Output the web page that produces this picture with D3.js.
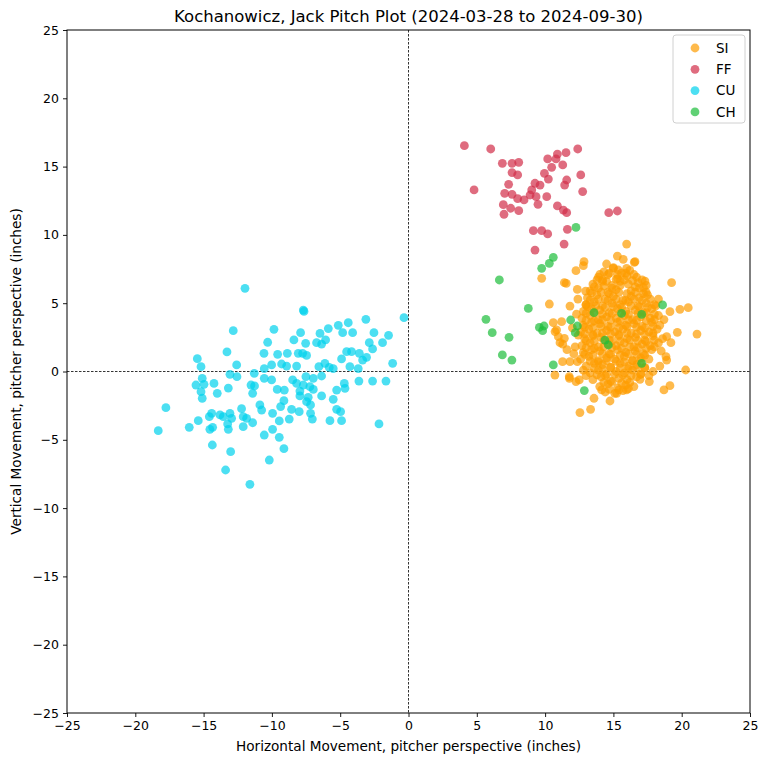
<!DOCTYPE html>
<html>
<head>
<meta charset="utf-8">
<script src="https://cdn.jsdelivr.net/npm/d3@7"></script>
<style>
  body { margin: 0; background: #fff; }
  svg text { font-family: "DejaVu Sans", sans-serif; fill: #000; }
</style>
</head>
<body>
<svg id="chart" width="768" height="765"></svg>
<script>
var pitchTypes = ['SI', 'FF', 'CU', 'CH'];
var pitchColors = ['#FE9D00', '#D22D49', '#00D1ED', '#1DBE3A'];
var tickValues = [-25, -20, -15, -10, -5, 0, 5, 10, 15, 20, 25];

var siPitches = [
  [15.97,9.33],[15.29,8.45],[15.72,8.21],[16.58,8.04],[12.85,8.04],[12.80,7.75],[14.50,7.87],[16.53,7.99],
  [12.26,7.38],[14.99,7.55],[15.36,7.43],[15.97,7.55],[9.75,6.82],[11.41,6.50],[11.55,6.45],[14.21,6.70],
  [17.31,6.62],[19.26,6.50],[12.36,6.01],[12.97,5.89],[10.31,4.94],[11.82,4.79],[12.99,4.87],[20.48,4.67],
  [19.87,4.55],[19.14,4.38],[10.60,3.57],[11.21,3.65],[10.84,3.04],[10.97,2.55],[11.41,2.43],[12.43,2.67],
  [11.09,2.11],[19.68,2.87],[21.12,2.74],[18.90,2.55],[19.21,2.11],[11.28,0.72],[11.82,0.72],[12.36,0.72],
  [10.72,-0.26],[11.77,-0.38],[12.26,-0.74],[20.29,0.11],[18.90,0.84],[18.85,1.09],[17.63,-0.74],[19.14,-1.04],
  [18.70,-1.35],[13.58,-1.96],[14.75,-2.16],[13.33,-2.77],[12.55,-3.01],[15.97,-1.35],[15.24,-1.60],[14.14,-1.35],
  [16.95,-0.57],[12.50,-0.62],[11.78,-0.50],[10.73,2.92],[11.29,2.00],
  [12.3,4.2],[12.2,1.8],[18.7,3.8],[18.6,2.4],[12.4,5.3],[18.3,5.3],[12.0,3.2],[12.1,1.3],[11.6,1.6],
  [18.5,1.5],[18.4,0.4],[17.9,0.0],[17.6,-0.3],[13.0,-0.3],[12.8,0.1],
  [14.3,7.3],[15.0,7.6],[15.6,7.2],[16.2,7.4],
  [13.9,6.9],[14.6,7.1],[15.3,6.8],[16.0,7.0],[16.7,6.9],
  [13.5,6.4],[14.2,6.6],[14.9,6.3],[15.5,6.6],[16.1,6.4],[16.8,6.5],[17.4,6.3],
  [13.3,5.9],[13.9,6.1],[14.6,5.8],[15.2,6.0],[16.3,5.9],[16.9,6.1],[17.4,5.8],
  [13.1,5.4],[13.8,5.6],[14.4,5.3],[15.0,5.5],[15.7,5.2],[16.3,5.5],[16.9,5.4],[17.5,5.6],
  [13.0,4.9],[13.6,5.1],[14.2,4.8],[14.9,5.0],[15.5,4.9],[16.1,5.1],[16.8,4.8],[17.4,5.0],[18.0,4.9],
  [12.8,4.4],[13.4,4.6],[14.0,4.5],[14.7,4.3],[15.3,4.6],[15.9,4.4],[16.6,4.5],[17.2,4.3],[17.8,4.6],
  [12.7,3.9],[13.3,4.1],[13.9,3.8],[14.5,4.0],[15.2,3.9],[15.8,4.1],[16.4,3.8],[17.0,4.0],[17.7,3.9],[18.3,4.1],
  [12.8,3.4],[13.4,3.6],[14.0,3.5],[14.6,3.3],[15.3,3.6],[15.9,3.4],[16.5,3.5],[17.1,3.3],[17.8,3.6],[18.4,3.4],
  [12.6,2.9],[13.2,3.1],[13.8,2.8],[14.5,3.0],[15.1,2.9],[15.7,3.1],[16.3,2.8],[17.0,3.0],[17.6,2.9],[18.2,3.1],
  [12.9,2.4],[13.5,2.6],[14.1,2.5],[14.7,2.3],[15.4,2.6],[16.0,2.4],[16.6,2.5],[17.3,2.3],[17.9,2.6],
  [12.7,1.9],[13.3,2.1],[13.9,1.8],[14.6,2.0],[15.2,1.9],[15.8,2.1],[16.5,1.8],[17.1,2.0],[17.7,1.9],[18.3,2.1],
  [12.8,1.4],[13.4,1.6],[14.0,1.5],[14.7,1.3],[15.3,1.6],[15.9,1.4],[16.6,1.5],[17.2,1.3],[17.8,1.6],
  [12.6,0.9],[13.2,1.1],[13.9,0.8],[14.5,1.0],[15.1,0.9],[15.8,1.1],[16.4,0.8],[17.0,1.0],[17.6,0.9],
  [13.0,0.4],[13.6,0.6],[14.2,0.5],[14.8,0.3],[15.5,0.6],[16.1,0.4],[16.7,0.5],[17.3,0.3],
  [13.3,-0.1],[13.9,0.1],[14.5,-0.2],[15.2,0.0],[15.8,-0.1],[16.4,0.1],[17.0,-0.2],
  [13.5,-0.6],[14.1,-0.4],[14.8,-0.7],[15.4,-0.5],[16.0,-0.6],[16.7,-0.4],
  [14.0,-1.1],[14.6,-0.9],[15.3,-1.2],[15.9,-1.0],[16.5,-1.1],
  [14.4,-1.5],[15.1,-1.6],[15.7,-1.4],
  [14.0,7.1],[14.7,7.2],[15.3,7.1],[15.9,7.2],[16.5,7.1],
  [13.8,6.7],[14.5,6.6],[15.2,6.75],[15.8,6.7],[16.4,6.65],[17.1,6.7],
  [13.6,6.2],[14.3,6.25],[14.9,6.1],[15.5,6.3],[16.6,6.2],[17.2,6.15],
  [13.4,5.75],[14.1,5.8],[14.7,5.7],[15.4,5.8],[16.0,5.7],[16.6,5.8],[17.2,5.7],
  [13.3,5.25],[13.9,5.3],[14.6,5.2],[15.2,5.3],[15.9,5.2],[16.5,5.3],[17.1,5.2],[17.7,5.3],
  [13.1,4.75],[13.7,4.8],[14.4,4.7],[15.0,4.75],[15.6,4.7],[16.3,4.8],[16.9,4.75],[17.5,4.7],[18.1,4.8],
  [13.0,4.25],[13.6,4.3],[14.2,4.2],[14.9,4.25],[15.5,4.3],[16.1,4.2],[16.8,4.25],[17.4,4.3],[18.0,4.2],
  [13.0,3.75],[13.6,3.7],[14.2,3.8],[14.8,3.75],[15.5,3.7],[16.1,3.8],[16.7,3.75],[17.4,3.7],[18.0,3.8],
  [12.9,3.25],[13.5,3.2],[14.1,3.3],[14.8,3.25],[15.4,3.2],[16.0,3.3],[16.7,3.25],[17.3,3.2],[17.9,3.3],
  [12.9,2.75],[13.5,2.7],[14.2,2.8],[14.8,2.75],[15.4,2.7],[16.0,2.8],[16.7,2.75],[17.3,2.7],[17.9,2.8],
  [13.0,2.25],[13.6,2.2],[14.3,2.3],[14.9,2.25],[15.5,2.2],[16.2,2.3],[16.8,2.25],[17.4,2.2],[18.0,2.3],
  [13.0,1.75],[13.6,1.7],[14.3,1.8],[14.9,1.75],[15.6,1.7],[16.2,1.8],[16.8,1.75],[17.4,1.7],[18.0,1.8],
  [12.9,1.25],[13.5,1.2],[14.2,1.3],[14.8,1.25],[15.5,1.2],[16.1,1.3],[16.7,1.25],[17.3,1.2],
  [13.3,0.75],[13.9,0.7],[14.5,0.8],[15.2,0.75],[15.8,0.7],[16.4,0.8],[17.0,0.75],
  [13.6,0.25],[14.2,0.2],[14.8,0.3],[15.5,0.25],[16.1,0.2],[16.7,0.3],[17.3,0.25],
  [13.8,-0.25],[14.4,-0.3],[15.1,-0.2],[15.7,-0.25],[16.3,-0.3],[17.0,-0.2],
  [14.3,-0.8],[14.9,-0.75],[15.6,-0.85],[16.2,-0.8],
  [14.7,-1.3],[15.4,-1.35],[16.1,-1.25]
];

var ffPitches = [
  [4.09,16.53],[6.02,16.29],[4.80,13.29],[6.87,15.24],[7.58,15.24],[8.07,15.31],[7.58,14.56],[7.99,14.39],
  [7.33,13.70],[7.04,13.04],[7.58,12.97],[7.99,12.65],[8.46,12.56],[6.94,12.21],[7.48,11.95],[8.07,11.77],
  [6.99,11.51],[9.02,13.29],[9.26,13.78],[9.63,13.65],[8.90,12.92],[9.34,12.80],[9.48,12.24],[10.12,12.80],
  [9.95,14.51],[10.24,14.09],[10.48,14.95],[10.19,15.56],[10.90,15.92],[11.53,16.02],[10.80,15.56],[11.29,15.12],
  [12.39,16.29],[11.58,14.02],[11.43,13.65],[12.61,14.39],[12.75,13.17],[10.90,12.12],[11.34,11.82],[11.58,11.63],
  [9.14,10.31],[9.75,10.31],[10.19,10.07],[11.63,10.41],[11.39,9.33],[9.26,8.89],[14.66,11.63],[15.29,11.75]
];

var cuPitches = [
  [-11.97,6.09],[-7.70,4.50],[-7.65,4.40],[-0.33,3.94],[-12.83,2.99],[-9.85,3.09],[-3.12,3.82],[-4.41,3.57],
  [-5.14,3.38],[-5.87,3.14],[-4.82,2.84],[-4.09,2.84],[-6.48,2.79],[-7.90,2.84],[-2.53,2.84],[-1.46,2.65],
  [-8.39,2.31],[-7.53,2.06],[-10.31,2.14],[-6.73,2.11],[-6.07,2.31],[-6.36,2.01],[-2.87,2.11],[-1.90,2.11],
  [-2.63,1.65],[-13.29,1.43],[-10.58,1.33],[-9.58,1.26],[-8.87,1.33],[-8.07,1.33],[-7.46,1.18],[-7.75,1.33],
  [-4.53,1.45],[-4.17,1.45],[-3.60,1.33],[-3.07,1.04],[-4.90,0.92],[-3.36,0.84],[-1.16,0.60],[-15.46,0.94],
  [-15.19,0.35],[-12.58,0.48],[-10.02,0.48],[-9.29,0.55],[-8.92,0.40],[-8.19,0.40],[-6.12,0.60],[-6.56,0.35],
  [-5.80,0.30],[-5.51,0.21],[-4.29,0.35],[-3.68,0.21],[-10.56,0.21],[-11.29,-0.13],[-13.07,-0.21],[-12.56,-0.38],
  [-15.10,-0.50],[-10.56,-0.50],[-10.02,-0.62],[-8.48,-0.62],[-7.51,-0.38],[-6.97,-0.50],[-6.36,-0.33],[-8.19,-0.87],
  [-7.70,-0.99],[-7.22,-1.11],[-4.70,-0.87],[-3.63,-0.70],[-2.63,-0.70],[-1.65,-0.70],[-15.56,-0.99],[-14.97,-0.94],
  [-14.24,-0.87],[-11.53,-0.99],[-11.27,-1.06],[-13.19,-1.21],[-9.61,-1.31],[-9.09,-1.36],[-7.95,-1.43],[-6.97,-1.31],
  [-5.26,-1.36],[-4.65,-1.23],[-15.19,-1.48],[-14.00,-1.60],[-11.41,-1.60],[-15.10,-1.96],[-9.12,-2.14],[-7.95,-1.79],
  [-7.34,-1.89],[-6.36,-1.79],[-5.51,-2.04],[-17.76,-2.65],[-12.22,-2.72],[-10.88,-2.45],[-10.75,-2.82],[-9.36,-2.57],
  [-8.56,-2.77],[-8.00,-2.94],[-7.17,-2.45],[-7.46,-2.21],[-5.26,-2.77],[-4.97,-2.94],[-14.41,-3.06],[-13.80,-3.18],
  [-13.07,-3.06],[-14.58,-3.31],[-13.56,-3.31],[-12.95,-3.43],[-12.10,-3.31],[-11.85,-3.43],[-9.95,-3.06],[-8.73,-3.48],
  [-7.17,-3.06],[-7.04,-3.48],[-5.75,-3.60],[-4.90,-3.60],[-15.39,-3.60],[-13.24,-3.84],[-11.41,-3.75],[-9.46,-3.62],
  [-2.16,-3.84],[-18.32,-4.33],[-16.05,-4.09],[-14.54,-4.23],[-14.34,-4.09],[-13.19,-4.23],[-12.10,-4.04],[-9.95,-4.23],
  [-10.56,-4.65],[-9.46,-4.82],[-14.36,-5.38],[-9.12,-5.65],[-13.02,-5.87],[-10.19,-6.48],[-13.39,-7.21],[-11.61,-8.26]
];

var chPitches = [
  [12.26,10.55],[10.60,8.36],[10.31,7.92],[9.75,7.55],[6.65,6.70],[8.77,4.62],[5.67,3.82],[6.13,2.84],
  [7.36,2.50],[6.87,1.21],[7.57,0.84],[9.58,3.23],[9.92,3.33],[9.82,2.99],[10.60,0.48],[11.87,3.77],
  [12.36,3.33],[12.21,2.84],[13.58,4.31],[15.60,4.26],[17.07,4.18],[18.60,4.87],[14.38,2.30],[14.63,1.94],
  [17.07,0.60],[12.87,-1.40]
];

var pitchData = [siPitches, ffPitches, cuPitches, chPitches];

var svg = d3.select('#chart');
var plotLeft = 67, plotRight = 750, plotTop = 30, plotBottom = 713;

var x = d3.scaleLinear().domain([-25, 25]).range([plotLeft, plotRight]);
var y = d3.scaleLinear().domain([-25, 25]).range([plotBottom, plotTop]);

var fmt = function(d) { return d < 0 ? '\u2212' + Math.abs(d) : '' + d; };

var xAxis = svg.append('g')
  .attr('transform', 'translate(0,' + plotBottom + ')')
  .call(d3.axisBottom(x).tickValues(tickValues).tickFormat(fmt).tickSize(4).tickPadding(4));
var yAxis = svg.append('g')
  .attr('transform', 'translate(' + plotLeft + ',0)')
  .call(d3.axisLeft(y).tickValues(tickValues).tickFormat(fmt).tickSize(4).tickPadding(4));

[xAxis, yAxis].forEach(function(g) {
  g.select('.domain').remove();
  g.selectAll('.tick line').attr('stroke', '#000').attr('stroke-width', 0.9);
  g.selectAll('.tick text').style('font-family', '"DejaVu Sans", sans-serif').style('font-size', '12.5px').attr('fill', '#000');
});

// zero lines
svg.append('line')
  .attr('x1', x(0)).attr('x2', x(0)).attr('y1', plotTop).attr('y2', plotBottom)
  .attr('stroke', '#000').attr('stroke-width', 0.8).attr('stroke-dasharray', '2.5,1.5');
svg.append('line')
  .attr('x1', plotLeft).attr('x2', plotRight).attr('y1', y(0)).attr('y2', y(0))
  .attr('stroke', '#000').attr('stroke-width', 0.8).attr('stroke-dasharray', '2.5,1.5');

var plot = svg.append('g');
pitchData.forEach(function(pts, i) {
  plot.selectAll('.p' + i).data(pts).enter().append('circle')
    .attr('class', 'p' + i)
    .attr('cx', function(d) { return x(d[0]); })
    .attr('cy', function(d) { return y(d[1]); })
    .attr('r', 4.4)
    .attr('fill', pitchColors[i])
    .attr('fill-opacity', 0.7);
});

svg.append('rect')
  .attr('x', plotLeft).attr('y', plotTop).attr('width', plotRight - plotLeft).attr('height', plotBottom - plotTop)
  .attr('fill', 'none').attr('stroke', '#000').attr('stroke-width', 1);

// legend
var legend = svg.append('g');
legend.append('rect')
  .attr('x', 673).attr('y', 35).attr('width', 72).attr('height', 88).attr('rx', 3)
  .attr('fill', '#fff').attr('fill-opacity', 0.8).attr('stroke', '#d0d0d0');
pitchTypes.forEach(function(t, i) {
  var ly = 48 + i * 21.3;
  legend.append('circle').attr('cx', 695).attr('cy', ly).attr('r', 4.4)
    .attr('fill', pitchColors[i]).attr('fill-opacity', 0.7);
  legend.append('text').attr('x', 716).attr('y', ly).attr('dy', '0.36em')
    .style('font-size', '13.5px').text(t);
});

svg.append('text')
  .attr('x', (plotLeft + plotRight) / 2).attr('y', 22).attr('text-anchor', 'middle')
  .style('font-size', '16.5px')
  .text('Kochanowicz, Jack Pitch Plot (2024-03-28 to 2024-09-30)');
svg.append('text')
  .attr('x', (plotLeft + plotRight) / 2).attr('y', 751).attr('text-anchor', 'middle')
  .style('font-size', '13.6px')
  .text('Horizontal Movement, pitcher perspective (inches)');
svg.append('text')
  .attr('transform', 'translate(21,' + (plotTop + plotBottom) / 2 + ') rotate(-90)')
  .attr('text-anchor', 'middle')
  .style('font-size', '13.6px')
  .text('Vertical Movement, pitcher perspective (inches)');
</script>
</body>
</html>
